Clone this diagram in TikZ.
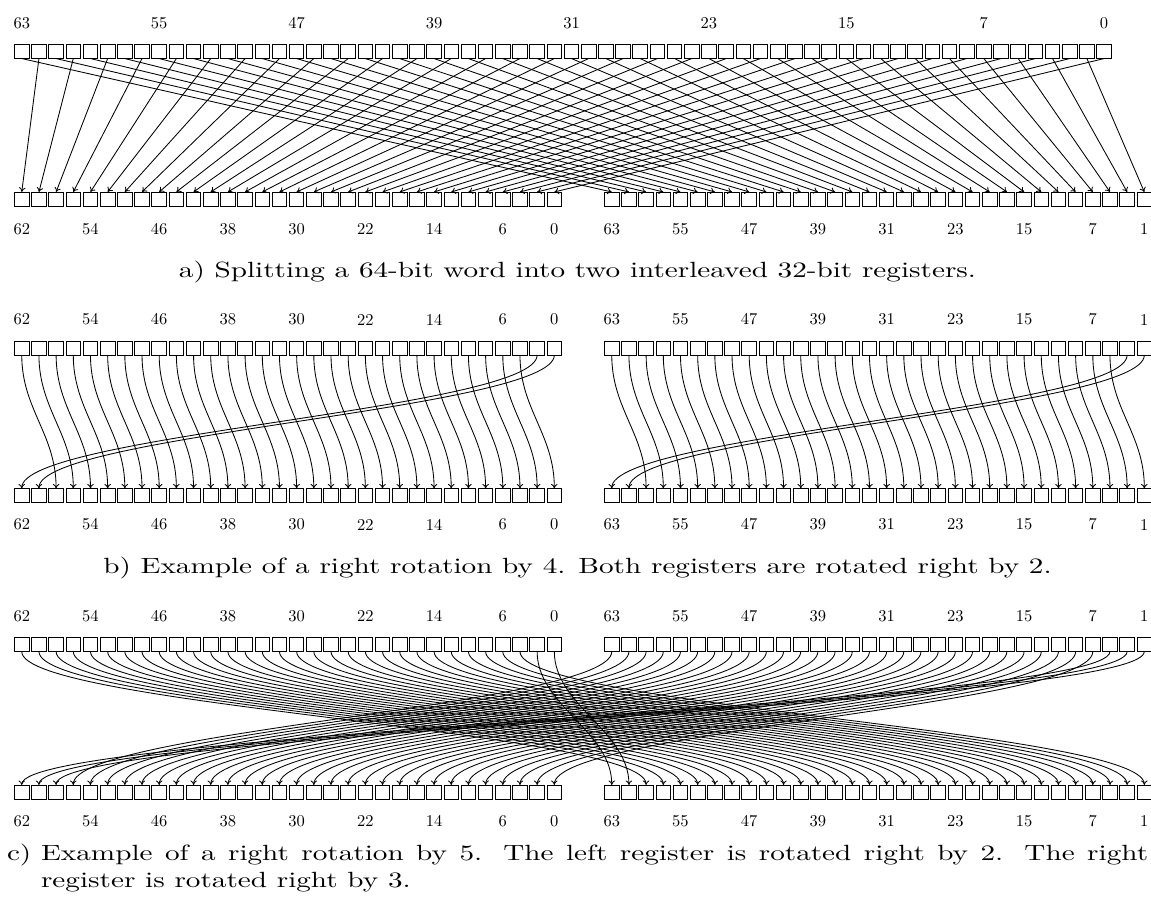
\documentclass[tikz,border=0pt]{standalone}
\usepackage{graphicx}
\usetikzlibrary{arrows.meta}
\newcommand\labtxt[1]{\scalebox{1.65}{\fontsize{10}{12}\selectfont #1}}
\newcommand\captxt[1]{\scalebox{2.92}[2.2]{\fontsize{10}{12}\selectfont #1}}
\begin{document}
\begin{tikzpicture}[x=1pt,y=-1pt,
  bx/.style={draw, line width=0.9pt, minimum width=14.6pt, minimum height=14.1pt, inner sep=0pt, outer sep=0pt},
  lbl/.style={inner sep=0pt, outer sep=0pt},
  arr/.style={-{To[length=4.5pt,width=6.5pt]}, line width=0.85pt},
  captn/.style={inner sep=0pt, outer sep=0pt}]
\useasboundingbox (0,0) rectangle (1151,900);
\def\pitch{17.18}
% ---------- section a ----------
\foreach \i in {0,...,63}
  \node[bx] (aT\i) at ({21.75+\pitch*\i},51.5) {};
\foreach \i in {0,...,31}{
  \node[bx] (aL\i) at ({21.75+\pitch*\i},199) {};
  \node[bx] (aR\i) at ({611.75+\pitch*\i},199) {};
}
\foreach \b/\i in {63/0,55/8,47/16,39/24,31/32,23/40,15/48,7/56,0/63}
  \node[lbl] (aTl\i) at ({21.75+\pitch*\i},23) {\labtxt{\b}};
\foreach \b/\c/\i in {62/63/0,54/55/4,46/47/8,38/39/12,30/31/16,22/23/20,14/15/24,6/7/28,0/1/31}{
  \node[lbl] (aLl\i) at ({21.75+\pitch*\i},229) {\labtxt{\b}};
  \node[lbl] (aRl\i) at ({611.75+\pitch*\i},229) {\labtxt{\c}};
}
\foreach \i in {0,...,63}{
  \pgfmathtruncatemacro\k{floor(\i/2)}
  \pgfmathtruncatemacro\m{mod(\i,2)}
  \ifnum\m=1
    \draw[arr] (aT\i.south) -- (aL\k.north);
  \else
    \draw[arr] (aT\i.south) -- (aR\k.north);
  \fi
}
\node[captn, anchor=base] (capA) at (577.5,277) {\captxt{a) Splitting a 64-bit word into two interleaved 32-bit registers.}};
% ---------- sections b and c: register rows ----------
\foreach \s/\off in {b/296.5,c/593}{
  \foreach \i in {0,...,31}{
    \node[bx] (\s TL\i) at ({21.75+\pitch*\i},{51.5+\off}) {};
    \node[bx] (\s TR\i) at ({611.75+\pitch*\i},{51.5+\off}) {};
    \node[bx] (\s BL\i) at ({21.75+\pitch*\i},{199+\off}) {};
    \node[bx] (\s BR\i) at ({611.75+\pitch*\i},{199+\off}) {};
  }
  \foreach \b/\c/\i in {62/63/0,54/55/4,46/47/8,38/39/12,30/31/16,22/23/20,14/15/24,6/7/28,0/1/31}{
    \node[lbl] (\s TLl\i) at ({21.75+\pitch*\i},{23+\off}) {\labtxt{\b}};
    \node[lbl] (\s TRl\i) at ({611.75+\pitch*\i},{23+\off}) {\labtxt{\c}};
    \node[lbl] (\s BLl\i) at ({21.75+\pitch*\i},{228+\off}) {\labtxt{\b}};
    \node[lbl] (\s BRl\i) at ({611.75+\pitch*\i},{228+\off}) {\labtxt{\c}};
  }
}
% ---------- section b arrows ----------
\foreach \k in {0,...,31}{
  \pgfmathtruncatemacro\n{mod(\k+2,32)}
  \draw[arr] (bTL\k.south) .. controls +(0,54) and +(0,-54) .. (bBL\n.north);
  \draw[arr] (bTR\k.south) .. controls +(0,54) and +(0,-54) .. (bBR\n.north);
}
\node[captn, anchor=base] (capB) at (577.5,573.3) {\captxt{b) Example of a right rotation by 4. Both registers are rotated right by 2.}};
% ---------- section c arrows ----------
\foreach \k in {0,...,31}{
  \pgfmathtruncatemacro\n{mod(\k+2,32)}
  \pgfmathtruncatemacro\q{mod(\k+3,32)}
  \draw[arr] (cTL\k.south) .. controls +(0,54) and +(0,-54) .. (cBR\n.north);
  \draw[arr] (cTR\k.south) .. controls +(0,54) and +(0,-54) .. (cBL\q.north);
}
\node[captn, anchor=base west] (capC) at (7,860.7) {\captxt{\parbox[t]{390.8pt}{\setbox0\hbox{c)\ }\hangindent=\wd0 \hangafter=1 \noindent\hbox to\wd0{c)\hfil}Example of a right rotation by 5. The left register is rotated right by 2. The right\linebreak register is rotated right by 3.}}};
\end{tikzpicture}
\end{document}
